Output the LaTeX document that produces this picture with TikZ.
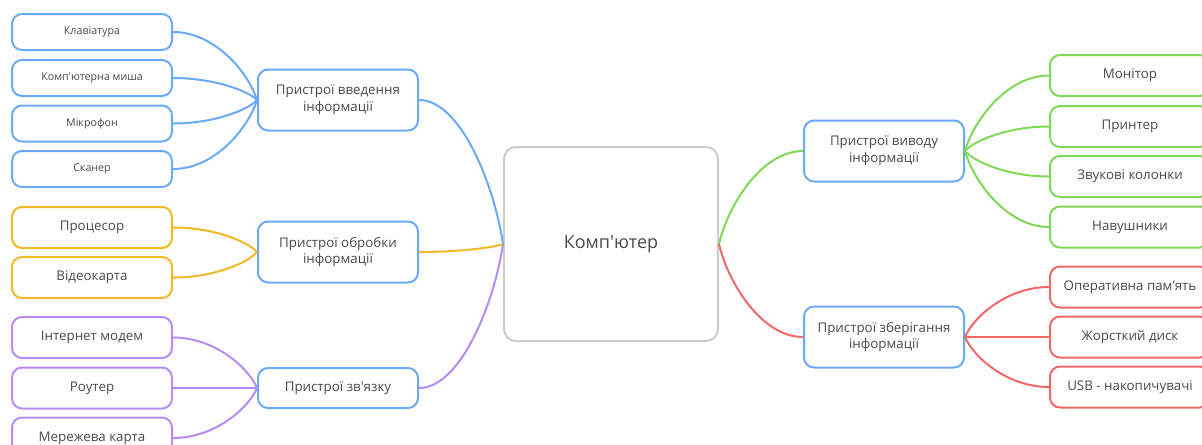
\documentclass[tikz,border=0pt]{standalone}
\usepackage{fontspec}
\usetikzlibrary{calc}
\setmainfont{Open Sans}
\definecolor{mapblue}{HTML}{6AAAF8}
\definecolor{mapyellow}{HTML}{F2B826}
\definecolor{mappurple}{HTML}{B58CF5}
\definecolor{mapgreen}{HTML}{80D857}
\definecolor{mapred}{HTML}{F06868}
\definecolor{mapgray}{HTML}{CCCCCC}
\definecolor{maptext}{HTML}{4A4A4A}
\newcommand{\ap}{\textquotesingle}
% curve that leaves the child flat and meets the parent steeply
\newcommand{\branch}[3]{%
  \draw[link,#1] let \p1=(#2), \p2=(#3) in
    (\p1) .. controls ({0.5*\x1+0.5*\x2},\y1)
             and ({0.9*\x2+0.1*\x1},{0.6*\y2+0.4*\y1}) .. (\p2);}

\begin{document}
\begin{tikzpicture}[x=0.75pt,y=-0.75pt,
box/.style = {% every node of the map
    draw, fill=white, rounded corners=7.5pt, line width=1.5pt,
    text=maptext, align=center, inner sep=2pt,
            },
core/.style = {box, draw=mapgray, rounded corners=9pt,
    minimum width=160.5pt, minimum height=145.5pt, font=\fontsize{13.5}{16}\selectfont},
topic/.style = {box, draw=mapblue, minimum width=120pt,
    minimum height=45.75pt, font=\fontsize{10}{12.5}\selectfont},
leaf/.style = {box, minimum width=120pt, minimum height=30.75pt,
    font=\fontsize{10}{12}\selectfont},
small/.style = {leaf, minimum height=27pt, font=\fontsize{8}{10}\selectfont},
link/.style = {line width=1.5pt},
                        ]
  \clip (0,0) rectangle (1202,444);

  % centre and main topics
  \node[core] (pc) at (611,244) {Комп\ap ютер};

  \node[topic] (vved) at (338,100) {Пристрої введення\\інформації};
  \node[topic] (obr)  at (338,252) {Пристрої обробки\\інформації};
  \node[topic, minimum height=30pt] (zv) at (338,388) {Пристрої зв\ap язку};
  \node[topic] (vyv)  at (884,151) {Пристрої виводу\\інформації};
  \node[topic] (zber) at (884,337) {Пристрої зберігання\\інформації};

  % input devices
  \node[small, draw=mapblue] (kb)    at (92,32)    {Клавіатура};
  \node[small, draw=mapblue] (mouse) at (92,78)    {Комп\ap ютерна миша};
  \node[small, draw=mapblue] (mic)   at (92,123.5) {Мікрофон};
  \node[small, draw=mapblue] (scan)  at (92,169)   {Сканер};

  % processing
  \node[leaf, draw=mapyellow] (cpu) at (92,227.5) {Процесор};
  \node[leaf, draw=mapyellow] (gpu) at (92,277.5) {Відеокарта};

  % communication
  \node[leaf, draw=mappurple] (modem)  at (92,337.5) {Інтернет модем};
  \node[leaf, draw=mappurple] (router) at (92,388)   {Роутер};
  \node[leaf, draw=mappurple] (net)    at (92,438)   {Мережева карта};

  % output
  \node[leaf, draw=mapgreen] (mon)   at (1130,75.5)  {Монітор};
  \node[leaf, draw=mapgreen] (print) at (1130,126.5) {Принтер};
  \node[leaf, draw=mapgreen] (spk)   at (1130,176.5) {Звукові колонки};
  \node[leaf, draw=mapgreen] (phone) at (1130,227)   {Навушники};

  % storage
  \node[leaf, draw=mapred] (ram) at (1130,287) {Оперативна пам'ять};
  \node[leaf, draw=mapred] (hdd) at (1130,337) {Жорсткий диск};
  \node[leaf, draw=mapred] (usb) at (1130,387) {USB - накопичувачі};

  % links to the centre
  \branch{mapblue}{vved.east}{pc.west}
  \branch{mapyellow}{obr.east}{pc.west}
  \branch{mappurple}{zv.east}{pc.west}
  \branch{mapgreen}{vyv.west}{pc.east}
  \branch{mapred}{zber.west}{pc.east}

  % left branches
  \branch{mapblue}{kb.east}{vved.west}
  \branch{mapblue}{mouse.east}{vved.west}
  \branch{mapblue}{mic.east}{vved.west}
  \branch{mapblue}{scan.east}{vved.west}

  \branch{mapyellow}{cpu.east}{obr.west}
  \branch{mapyellow}{gpu.east}{obr.west}

  \branch{mappurple}{modem.east}{zv.west}
  \draw[link, mappurple] (router.east) -- (zv.west);
  \branch{mappurple}{net.east}{zv.west}

  % right branches
  \branch{mapgreen}{mon.west}{vyv.east}
  \branch{mapgreen}{print.west}{vyv.east}
  \branch{mapgreen}{spk.west}{vyv.east}
  \branch{mapgreen}{phone.west}{vyv.east}

  \branch{mapred}{ram.west}{zber.east}
  \draw[link, mapred] (zber.east) -- (hdd.west);
  \branch{mapred}{usb.west}{zber.east}

\end{tikzpicture}
\end{document}
